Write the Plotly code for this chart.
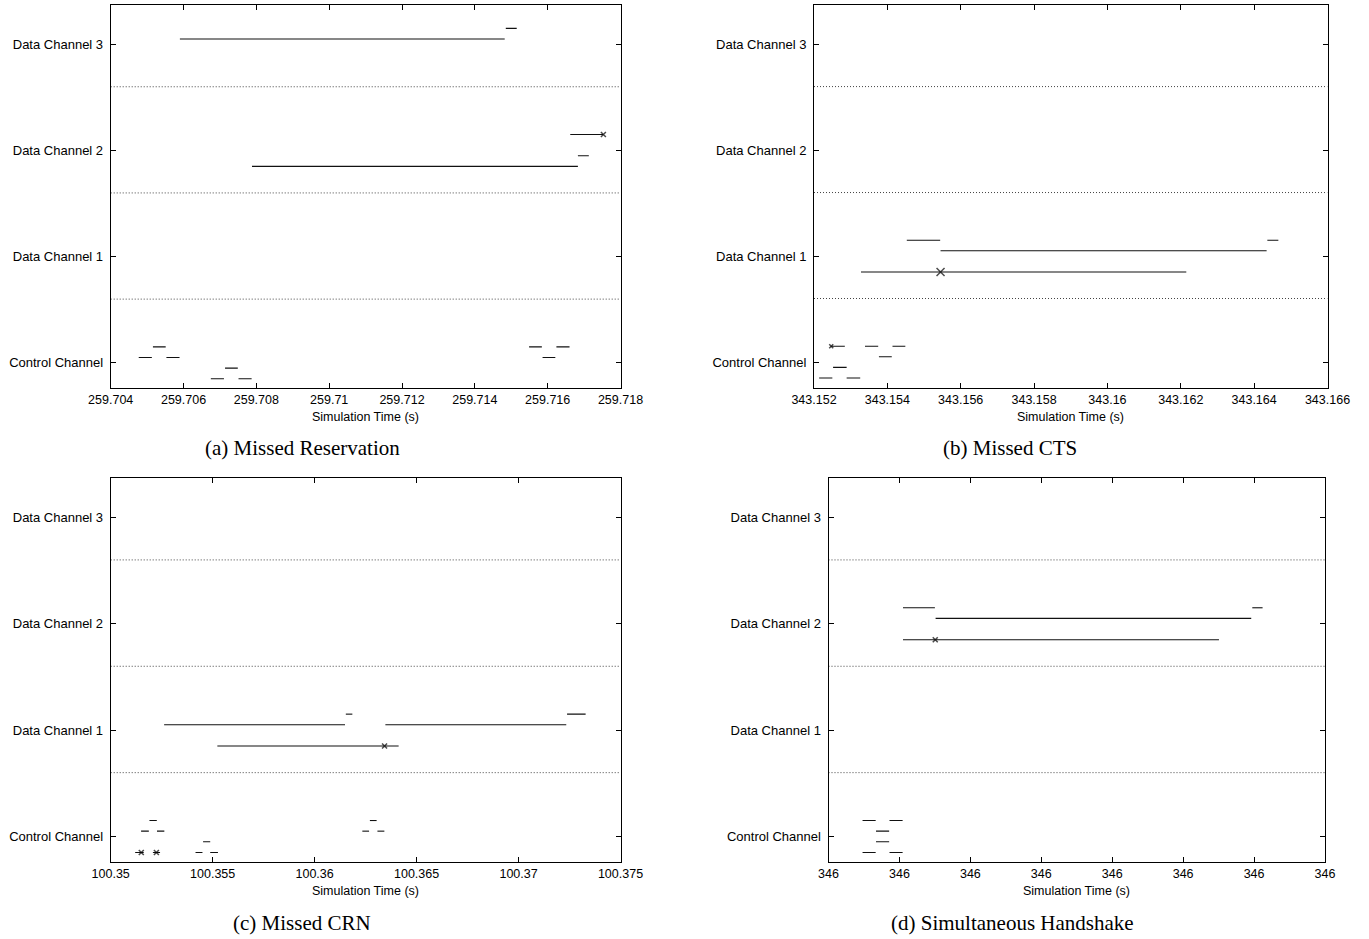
import plotly.graph_objects as go

W, H = 1369, 939

channel_ticks = [0, 1, 2, 3]
channel_labels = ["Control Channel", "Data Channel 1", "Data Channel 2", "Data Channel 3"]
separators = [0.6, 1.6, 2.6]

# ---------------- (a) Missed Reservation ----------------
a_start = [259.70477, 259.70516, 259.70553, 259.70675, 259.70714, 259.70751,
           259.71549, 259.71586, 259.71624,
           259.70590, 259.71485,
           259.70788, 259.71683, 259.71662]
a_end = [259.70513, 259.70551, 259.70589, 259.70711, 259.70749, 259.70787,
         259.71584, 259.71621, 259.71660,
         259.71482, 259.71515,
         259.71683, 259.71713, 259.71753]
a_chan = [0, 0, 0, 0, 0, 0, 0, 0, 0, 3, 3, 2, 2, 2]
a_lane = [0.05, 0.15, 0.05, -0.15, -0.05, -0.15, 0.15, 0.05, 0.15,
          0.05, 0.15, -0.15, -0.05, 0.15]
a_mark_t = [259.71753]
a_mark_chan = [2]
a_mark_lane = [0.15]

# ---------------- (b) Missed CTS ----------------
b_start = [343.15214, 343.15252, 343.15289, 343.15245, 343.15339, 343.15377, 343.15414,
           343.15453, 343.15545, 343.16436, 343.15328]
b_end = [343.15250, 343.15289, 343.15326, 343.15284, 343.15375, 343.15412, 343.15449,
         343.15544, 343.16434, 343.16466, 343.16215]
b_chan = [0, 0, 0, 0, 0, 0, 0, 1, 1, 1, 1]
b_lane = [-0.15, -0.05, -0.15, 0.15, 0.15, 0.05, 0.15, 0.15, 0.05, 0.15, -0.15]
b_mark_t = [343.15247, 343.15545]
b_mark_chan = [0, 1]
b_mark_lane = [0.15, -0.15]
b_mark_size = [4, 8]

# ---------------- (c) Missed CRN ----------------
c_start = [100.35120, 100.35149, 100.35190, 100.35207, 100.35227, 100.35416, 100.35453,
           100.35488, 100.36234, 100.36271, 100.36308,
           100.35262, 100.36153, 100.36347, 100.37238, 100.35523]
c_end = [100.35162, 100.35187, 100.35226, 100.35242, 100.35263, 100.35450, 100.35488,
         100.35526, 100.36267, 100.36304, 100.36342,
         100.36149, 100.36185, 100.37234, 100.37329, 100.36412]
c_chan = [0, 0, 0, 0, 0, 0, 0, 0, 0, 0, 0, 1, 1, 1, 1, 1]
c_lane = [-0.15, 0.05, 0.15, -0.15, 0.05, -0.15, -0.05, -0.15, 0.05, 0.15, 0.05,
          0.05, 0.15, 0.05, 0.15, -0.15]
c_mark_t = [100.35150, 100.35224, 100.36343]
c_mark_chan = [0, 0, 1]
c_mark_lane = [-0.15, -0.15, -0.15]

# ---------------- (d) Simultaneous Handshake ----------------
d_start = [346.00096, 346.00172, 346.00134, 346.00134, 346.00096, 346.00172,
           346.00210, 346.00302, 346.01195, 346.00210]
d_end = [346.00133, 346.00209, 346.00171, 346.00171, 346.00133, 346.00209,
         346.00300, 346.01192, 346.01224, 346.01101]
d_chan = [0, 0, 0, 0, 0, 0, 2, 2, 2, 2]
d_lane = [0.15, 0.15, 0.05, -0.05, -0.15, -0.15, 0.15, 0.05, 0.15, -0.15]
d_mark_t = [346.00301]
d_mark_chan = [2]
d_mark_lane = [-0.15]

captions = ["(a) Missed Reservation", "(b) Missed CTS", "(c) Missed CRN", "(d) Simultaneous Handshake"]
x_title = "Simulation Time (s)"

panels = [
    dict(start=a_start, end=a_end, chan=a_chan, lane=a_lane,
         mt=a_mark_t, mc=a_mark_chan, ml=a_mark_lane, ms=[5],
         xr=[259.704, 259.718], dtick=0.002, fmt=".6~g",
         box=(110.7, 620.5, 5, 388.3), cap_x=302, cap_y=448, tit_y=417),
    dict(start=b_start, end=b_end, chan=b_chan, lane=b_lane,
         mt=b_mark_t, mc=b_mark_chan, ml=b_mark_lane, ms=b_mark_size,
         xr=[343.152, 343.166], dtick=0.002, fmt=".6~g",
         box=(814.0, 1327.5, 5, 387.5), cap_x=1010, cap_y=448, tit_y=417),
    dict(start=c_start, end=c_end, chan=c_chan, lane=c_lane,
         mt=c_mark_t, mc=c_mark_chan, ml=c_mark_lane, ms=[5, 5, 5],
         xr=[100.35, 100.375], dtick=0.005, fmt=".6~g",
         box=(110.7, 620.5, 478, 862), cap_x=302, cap_y=923, tit_y=891),
    dict(start=d_start, end=d_end, chan=d_chan, lane=d_lane,
         mt=d_mark_t, mc=d_mark_chan, ml=d_mark_lane, ms=[5],
         xr=[346.000, 346.014], dtick=0.002, fmt=".3~g",
         box=(828.5, 1325.0, 478, 862), cap_x=1012, cap_y=923, tit_y=891),
]

YR = [-0.24, 3.37]
SANS = "Liberation Sans, Arial, sans-serif"
SERIF = "Liberation Serif, Times New Roman, serif"

fig = go.Figure()
layout = dict(
    width=W, height=H, margin=dict(l=0, r=0, t=0, b=0, autoexpand=False),
    paper_bgcolor="white", plot_bgcolor="white", showlegend=False,
    font=dict(family=SANS, size=12.5, color="black"),
)
annotations = []

for i, p in enumerate(panels):
    k = "" if i == 0 else str(i + 1)
    xa, ya = "x" + k, "y" + k
    x0, x1, y0, y1 = p["box"]

    # separators (dotted)
    for s in separators:
        fig.add_trace(go.Scatter(x=p["xr"], y=[s, s], mode="lines", xaxis=xa, yaxis=ya,
                                 line=dict(color="#444", width=1, dash="1px,2px"),
                                 hoverinfo="skip"))
    # segments
    xs, ys = [], []
    for st, en, ch, ln in zip(p["start"], p["end"], p["chan"], p["lane"]):
        xs += [st, en, None]
        ys += [ch + ln, ch + ln, None]
    fig.add_trace(go.Scatter(x=xs, y=ys, mode="lines", xaxis=xa, yaxis=ya,
                             line=dict(color="#111", width=1.1), hoverinfo="skip"))
    # markers
    fig.add_trace(go.Scatter(x=p["mt"], y=[c + l for c, l in zip(p["mc"], p["ml"])],
                             mode="markers", xaxis=xa, yaxis=ya,
                             marker=dict(symbol="x-thin", size=p["ms"],
                                         line=dict(color="black", width=1.5)),
                             hoverinfo="skip"))

    layout["xaxis" + k] = dict(
        domain=[x0 / W, x1 / W], anchor=ya, range=p["xr"], dtick=p["dtick"],
        tick0=p["xr"][0], tickformat=p["fmt"], ticks="inside", ticklen=5,
        tickcolor="black", showline=True, linecolor="black", linewidth=1,
        mirror="ticks", showgrid=False, zeroline=False, automargin=False,
        tickfont=dict(family=SANS, size=12.5, color="black"),
    )
    layout["yaxis" + k] = dict(
        domain=[1 - y1 / H, 1 - y0 / H], anchor=xa, range=YR,
        tickvals=channel_ticks, ticktext=channel_labels, ticks="inside", ticklen=5,
        tickcolor="black", showline=True, linecolor="black", linewidth=1,
        mirror="ticks", showgrid=False, zeroline=False, automargin=False,
        ticklabelstandoff=4,
        tickfont=dict(family=SANS, size=13, color="black"),
    )
    annotations.append(dict(text=x_title, x=(x0 + x1) / 2 / W, y=1 - p["tit_y"] / H,
                            xref="paper", yref="paper", showarrow=False,
                            xanchor="center", yanchor="middle",
                            font=dict(family=SANS, size=12.5, color="black")))
    annotations.append(dict(text=captions[i], x=p["cap_x"] / W, y=1 - p["cap_y"] / H,
                            xref="paper", yref="paper", showarrow=False,
                            xanchor="center", yanchor="middle",
                            font=dict(family=SERIF, size=21, color="black")))

layout["annotations"] = annotations
fig.update_layout(**layout)
fig.write_html("out.html")
